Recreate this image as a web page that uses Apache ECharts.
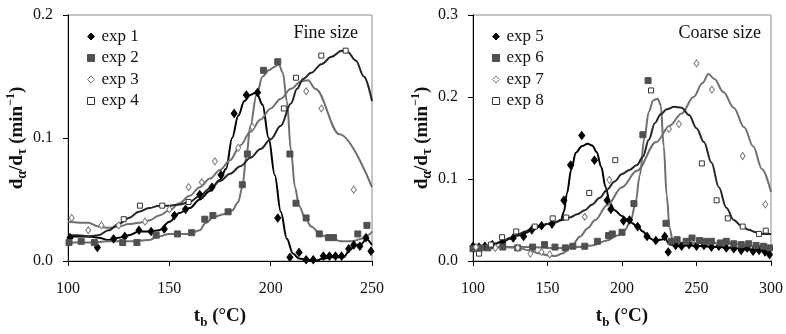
<!DOCTYPE html>
<html><head><meta charset="utf-8">
<script src="https://cdn.jsdelivr.net/npm/echarts@6/dist/echarts.min.js"></script>
<style>html,body{margin:0;padding:0;background:#fff}#c{width:786px;height:334px}</style>
</head><body><div id="c"></div>
<script>
// ---------- Fine size (left) ----------
var exp1Pts = [[101,0.019],[114.5,0.011],[122.5,0.018],[128,0.02],[135,0.025],[141,0.024],[147.5,0.026],[152.5,0.037],[158,0.042],[165,0.054],[171,0.06],[175.5,0.07],[182,0.12],[188,0.135],[193.5,0.137],[203.5,0.035],[209.5,0.003],[214,0.007],[217.5,0.001],[221,0.001],[226,0.004],[229,0.004],[232,0.004],[235,0.004],[238.5,0.01],[241,0.013],[244,0.012],[247,0.019],[249.5,0.008]];
var exp1Fit = [[100,0.02],[110,0.02],[115,0.019],[120,0.017],[125,0.019],[130,0.021],[135,0.024],[140,0.024],[145,0.025],[150,0.032],[155,0.039],[160,0.043],[165,0.05],[170,0.057],[175,0.066],[178,0.075],[181,0.1],[184,0.118],[187,0.13],[190,0.135],[193,0.137],[196,0.127],[199,0.1],[202,0.07],[205,0.04],[208,0.018],[211,0.006],[214,0.002],[218,0.001],[222,0.0],[226,0.002],[230,0.003],[236,0.003],[239,0.009],[242,0.013],[245,0.014],[247,0.018],[250,0.013]];
var exp2Pts = [[100.5,0.015],[106.5,0.016],[113,0.015],[127,0.015],[134,0.015],[143.5,0.021],[154,0.022],[161,0.023],[167.5,0.034],[171.5,0.037],[179,0.04],[186,0.062],[188.5,0.087],[196.5,0.155],[203.5,0.162],[209.5,0.087],[212.5,0.047],[217.5,0.035],[224,0.022],[228.5,0.019],[231,0.019],[243,0.022],[247.5,0.029]];
var exp2Fit = [[100,0.015],[110,0.015],[120,0.016],[130,0.016],[140,0.017],[145,0.02],[150,0.022],[160,0.022],[165,0.025],[168,0.031],[172,0.036],[177,0.038],[181,0.041],[184,0.048],[186,0.06],[188,0.085],[190,0.11],[193,0.135],[196,0.15],[199,0.155],[202,0.158],[204,0.16],[206,0.153],[208,0.13],[210,0.09],[212,0.06],[214,0.045],[217,0.035],[220,0.028],[225,0.021],[230,0.018],[235,0.016],[240,0.016],[245,0.018],[248,0.021],[250,0.024]];
var exp3Pts = [[101.8,0.035],[110,0.025],[116.5,0.029],[125,0.029],[138,0.032],[150,0.042],[159.5,0.06],[166,0.064],[172.5,0.081],[184,0.092],[191,0.109],[217.5,0.138],[225,0.124],[241,0.058]];
var exp3Fit = [[100,0.032],[110,0.031],[115,0.028],[120,0.027],[125,0.028],[130,0.03],[135,0.031],[140,0.033],[145,0.037],[150,0.041],[155,0.047],[160,0.053],[165,0.06],[170,0.067],[175,0.074],[180,0.082],[185,0.094],[190,0.105],[195,0.115],[200,0.124],[205,0.132],[210,0.14],[215,0.146],[218.5,0.147],[222,0.14],[234,0.103],[250,0.06]];
var exp4Pts = [[127.5,0.034],[135.5,0.045],[146.5,0.045],[159.5,0.048],[206.5,0.124],[212.5,0.149],[225,0.167],[237,0.171]];
var exp4Fit = [[100,0.021],[105,0.021],[110,0.02],[115,0.021],[120,0.025],[125,0.03],[130,0.035],[135,0.04],[140,0.043],[145,0.045],[150,0.045],[155,0.046],[160,0.048],[165,0.053],[170,0.059],[175,0.065],[180,0.071],[185,0.077],[190,0.084],[195,0.091],[200,0.099],[205,0.11],[210,0.128],[213,0.14],[216,0.148],[220,0.153],[225,0.16],[230,0.166],[235,0.171],[238,0.17],[242,0.163],[246,0.15],[250,0.13]];

// ---------- Coarse size (right) ----------
var exp5Pts = [[100,0.018],[104,0.017],[108,0.018],[113,0.02],[120,0.023],[127,0.028],[134,0.03],[139.5,0.038],[146,0.043],[153,0.045],[161,0.074],[165.5,0.117],[173,0.153],[181.5,0.123],[190,0.074],[192.5,0.063],[201,0.049],[205,0.05],[210.5,0.042],[216.8,0.03],[222.7,0.025],[228.7,0.03],[231,0.011],[236,0.019],[240,0.018],[245,0.02],[250,0.018],[255,0.019],[260,0.017],[265,0.018],[270,0.016],[275,0.015],[280,0.013],[284,0.016],[288,0.012],[292,0.013],[296,0.011],[299,0.008]];
var exp5Fit = [[100,0.018],[105,0.017],[110,0.018],[115,0.021],[120,0.024],[125,0.027],[130,0.031],[135,0.034],[140,0.038],[145,0.042],[150,0.045],[155,0.047],[159,0.05],[161,0.06],[163,0.082],[166,0.112],[169,0.132],[173,0.14],[177,0.143],[180,0.141],[183,0.133],[186,0.115],[189,0.09],[192,0.07],[195,0.062],[200,0.055],[205,0.048],[210,0.043],[214,0.036],[218,0.028],[222,0.025],[226,0.026],[229,0.027],[232,0.02],[236,0.019],[245,0.019],[255,0.018],[265,0.017],[275,0.016],[285,0.014],[295,0.013],[300,0.012]];
var exp6Pts = [[100,0.015],[105,0.016],[110,0.016],[120,0.017],[130,0.016],[140,0.017],[148,0.02],[155,0.017],[162,0.016],[167,0.018],[175,0.018],[183.5,0.024],[191,0.031],[193.5,0.033],[200,0.035],[208,0.07],[214,0.154],[217.5,0.22],[229.5,0.046],[233,0.024],[237,0.026],[243,0.024],[247,0.028],[252,0.025],[256,0.024],[260,0.024],[266,0.022],[270,0.024],[275,0.021],[280,0.02],[285,0.021],[290,0.019],[295,0.018],[299,0.016]];
var exp6Fit = [[100,0.016],[110,0.017],[120,0.017],[130,0.017],[140,0.017],[150,0.016],[160,0.016],[170,0.017],[180,0.019],[190,0.025],[197,0.031],[202,0.038],[206,0.05],[209,0.07],[212,0.105],[215,0.15],[218,0.182],[221,0.196],[224,0.198],[226,0.19],[228,0.14],[230,0.08],[232,0.04],[234,0.025],[237,0.022],[245,0.022],[260,0.022],[275,0.021],[290,0.018],[300,0.016]];
var exp7Pts = [[102,0.017],[115,0.016],[130,0.016],[138.5,0.009],[146,0.011],[151.5,0.008],[175,0.054],[191.5,0.099],[231.5,0.161],[238.2,0.167],[250,0.241],[260.3,0.209],[281,0.128],[296.2,0.069]];
var exp7Fit = [[100,0.016],[110,0.016],[120,0.017],[130,0.016],[138,0.013],[145,0.009],[150,0.007],[155,0.006],[160,0.009],[166,0.018],[172,0.03],[177,0.04],[182,0.05],[190,0.068],[200,0.09],[210,0.11],[223,0.145],[232,0.165],[240,0.18],[248,0.2],[254,0.217],[258,0.228],[262,0.222],[268,0.206],[275,0.187],[282,0.163],[288,0.14],[294,0.112],[300,0.084]];
var exp8Pts = [[104,0.009],[112,0.02],[119.5,0.029],[129,0.036],[141.5,0.042],[153.5,0.052],[162.5,0.053],[178,0.083],[195.5,0.123],[219.5,0.208],[253.6,0.119],[263.5,0.074],[271,0.052],[281,0.042],[292,0.033],[296.5,0.037]];
var exp8Fit = [[100,0.018],[105,0.016],[110,0.018],[115,0.021],[120,0.025],[125,0.028],[130,0.032],[135,0.036],[140,0.04],[145,0.043],[150,0.045],[155,0.047],[160,0.05],[165,0.053],[170,0.057],[175,0.062],[180,0.069],[185,0.077],[190,0.087],[195,0.097],[200,0.106],[205,0.111],[210,0.117],[214,0.127],[218,0.148],[222,0.168],[226,0.179],[230,0.185],[235,0.188],[240,0.187],[245,0.178],[250,0.162],[255,0.145],[260,0.12],[265,0.09],[270,0.065],[275,0.05],[280,0.043],[285,0.038],[290,0.035],[295,0.033],[300,0.033]];

var leftNames = ['exp 1','exp 2','exp 3','exp 4'];
var rightNames = ['exp 5','exp 6','exp 7','exp 8'];
var leftTitle = 'Fine size', rightTitle = 'Coarse size';
var xTitle = 't', xSub = 'b', xUnit = ' (°C)';

var SERIF = "'Liberation Serif','Times New Roman',serif";
var BLACK = '#000', DARK = '#262626', GRAY = '#6f6f6f';

var styles = [
  {sym:'diamond', size:[6,8], fill:BLACK, border:BLACK, line:BLACK},
  {sym:'rect', size:6, fill:'#505050', border:'#505050', line:GRAY},
  {sym:'diamond', size:[5,7], fill:'#fff', border:'#777', line:GRAY},
  {sym:'rect', size:5, fill:'#fff', border:'#333', line:DARK}
];

function xAxis(idx, max){
  return {gridIndex:idx, type:'value', min:100, max:max, interval:50,
    axisLine:{show:true, onZero:false, lineStyle:{color:'#000', width:1}},
    axisTick:{show:true, length:5, lineStyle:{color:'#000'}},
    axisLabel:{color:'#111', fontFamily:SERIF, fontSize:16, margin:20},
    splitLine:{show:false},
    name:'{a|'+xTitle+'}{s|'+xSub+'}{a|'+xUnit+'}', nameLocation:'middle', nameGap:46,
    nameTextStyle:{rich:{
      a:{fontFamily:SERIF, fontSize:19, fontWeight:'bold', color:'#111', verticalAlign:'bottom'},
      s:{fontFamily:SERIF, fontSize:13, fontWeight:'bold', color:'#111', verticalAlign:'bottom', padding:[0,0,-3,0]}}}
  };
}
function yAxis(idx, max){
  return {gridIndex:idx, type:'value', min:0, max:max, interval:0.1,
    axisLine:{show:true, onZero:false, lineStyle:{color:'#000', width:1}},
    axisTick:{show:true, length:5, lineStyle:{color:'#000'}},
    axisLabel:{color:'#111', fontFamily:SERIF, fontSize:16, margin:15, formatter:function(v){return v.toFixed(1);}},
    splitLine:{show:false},
    name:'{a|d}{s|α}{a|/d}{s|τ}{a| (min}{p|−1}{a|)}', nameLocation:'middle', nameRotate:90, nameGap:40,
    nameTextStyle:{rich:{
      a:{fontFamily:SERIF, fontSize:19, fontWeight:'bold', color:'#111', verticalAlign:'bottom'},
      s:{fontFamily:SERIF, fontSize:14, fontWeight:'bold', color:'#111', verticalAlign:'bottom', padding:[0,0,-3,0]},
      p:{fontFamily:SERIF, fontSize:12, fontWeight:'bold', color:'#111', verticalAlign:'top', padding:[0,0,9,0]}}}
  };
}

var series = [];
function addExp(name, pts, fit, st, gi){
  series.push({name:name+' fit', type:'line', xAxisIndex:gi, yAxisIndex:gi, data:fit,
    showSymbol:false, smooth:0.35, smoothMonotone:'x', silent:true,
    lineStyle:{color:st.line, width:2}, z:2});
  series.push({name:name, type:'scatter', xAxisIndex:gi, yAxisIndex:gi, data:pts,
    symbol:st.sym, symbolSize:st.size,
    itemStyle:{color:st.fill, borderColor:st.border, borderWidth:1, opacity:1}, z:3});
}
var L = [[exp1Pts,exp1Fit],[exp2Pts,exp2Fit],[exp3Pts,exp3Fit],[exp4Pts,exp4Fit]];
var R = [[exp5Pts,exp5Fit],[exp6Pts,exp6Fit],[exp7Pts,exp7Fit],[exp8Pts,exp8Fit]];
for (var i=0;i<4;i++){ addExp(leftNames[i], L[i][0], L[i][1], styles[i], 0); }
for (var j=0;j<4;j++){ addExp(rightNames[j], R[j][0], R[j][1], styles[j], 1); }

function legendData(names){
  return names.map(function(n,k){
    var st = styles[k];
    return {name:n, icon: st.sym, itemStyle:{color:st.fill, borderColor:st.border, borderWidth:1}};
  });
}
function legend(names, left){
  return {data:legendData(names), orient:'vertical', left:left, top:23, itemWidth:7, itemHeight:7,
    itemGap:4.5, selectedMode:false,
    textStyle:{fontFamily:SERIF, fontSize:17, color:'#111', lineHeight:17, padding:[0,0,0,2]}};
}

var chart = echarts.init(document.getElementById('c'), null, {renderer:'canvas'});
chart.setOption({
  animation:false,
  backgroundColor:'#fff',
  grid:[
    {left:68, top:15, width:304, height:250, show:true, borderColor:'#8c8c8c', borderWidth:1, backgroundColor:'transparent'},
    {left:473, top:15, width:302, height:250, show:true, borderColor:'#8c8c8c', borderWidth:1, backgroundColor:'transparent'}
  ],
  xAxis:[xAxis(0,250), xAxis(1,300)],
  yAxis:[yAxis(0,0.2), yAxis(1,0.3)],
  legend:[legend(leftNames, 82), legend(rightNames, 487)],
  graphic:[
    {type:'text', x:358, y:33, style:{text:leftTitle, fill:'#111', font:'18px '+SERIF, align:'right', verticalAlign:'middle'}},
    {type:'text', x:761, y:33, style:{text:rightTitle, fill:'#111', font:'18px '+SERIF, align:'right', verticalAlign:'middle'}}
  ],
  series:series
});
</script></body></html>
